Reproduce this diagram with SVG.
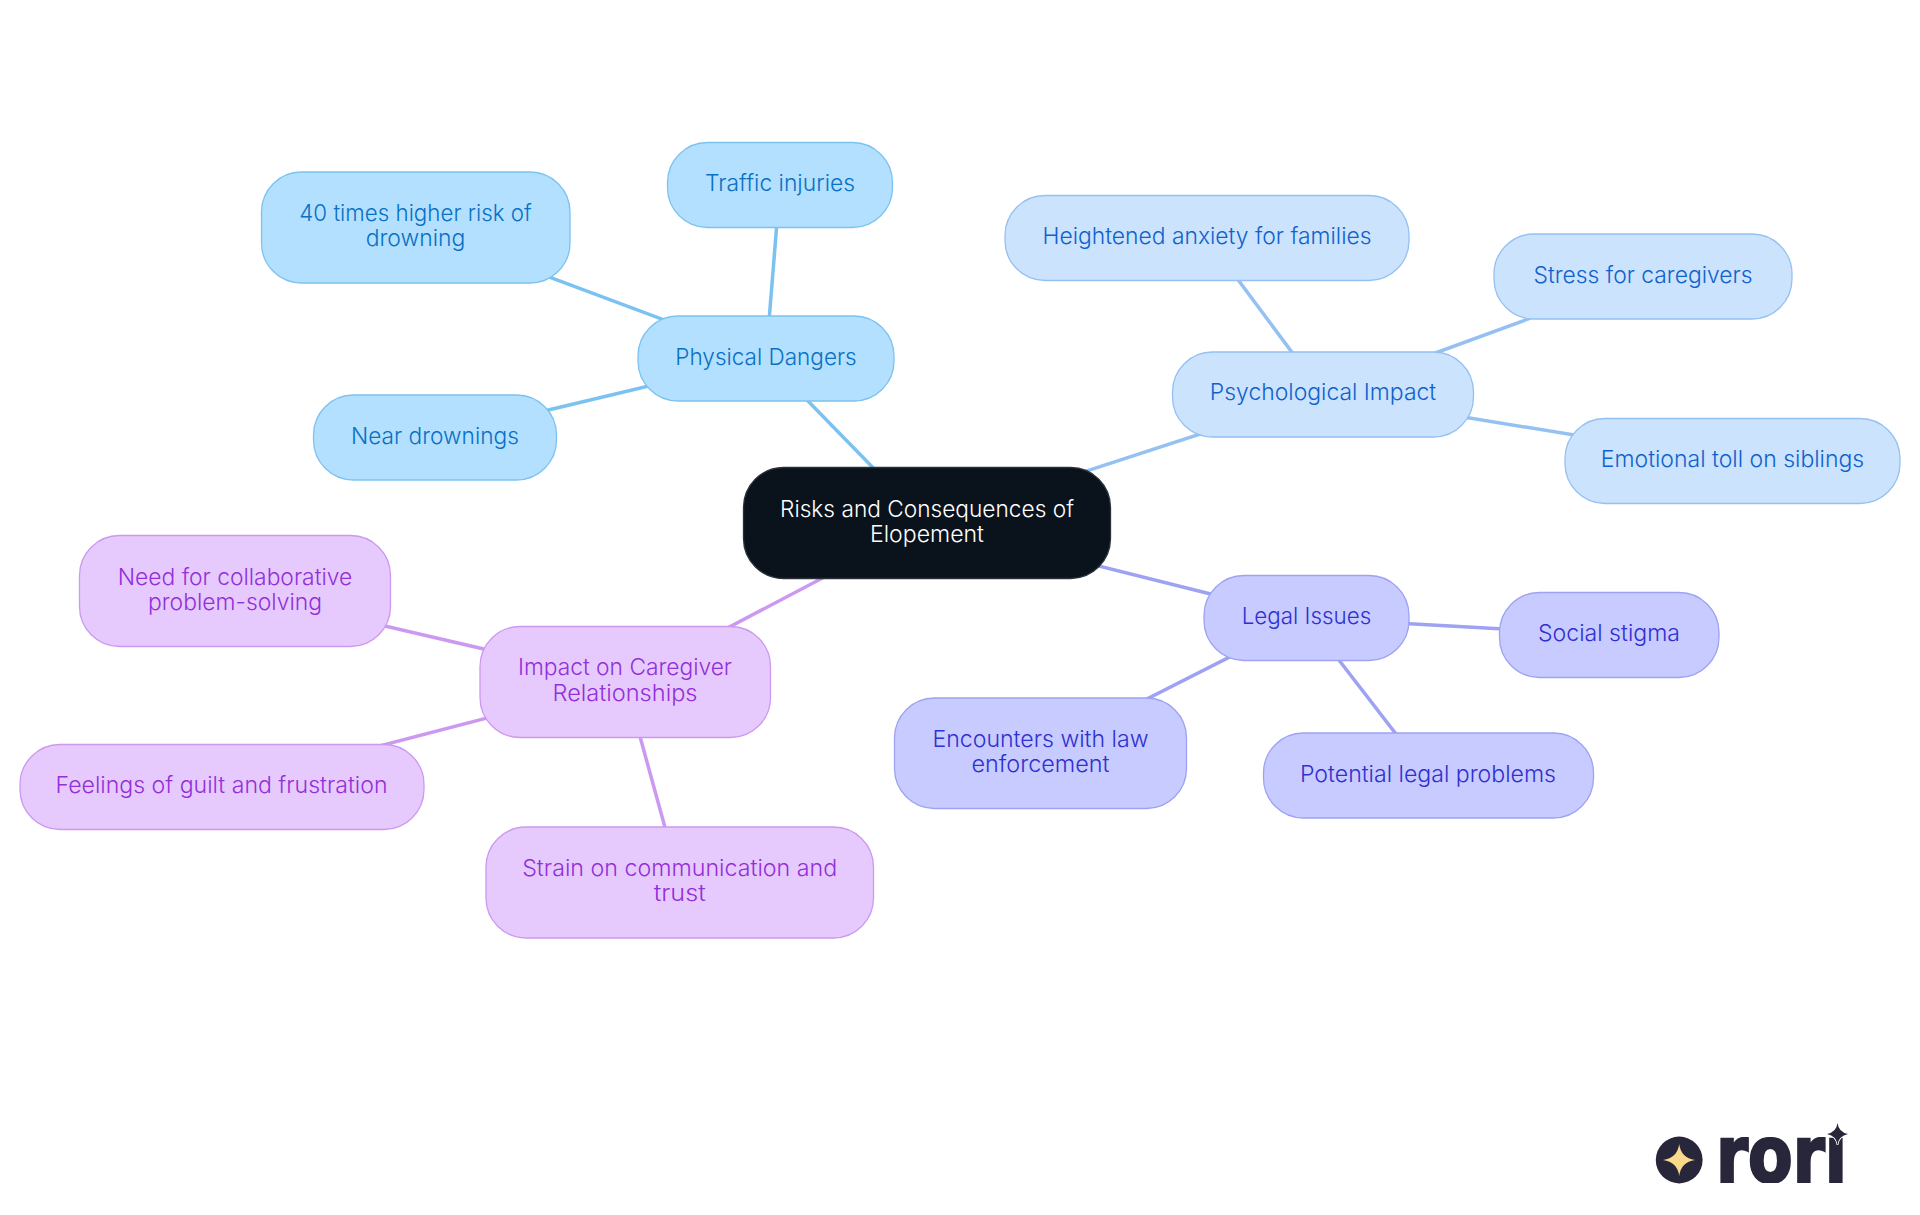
<svg xmlns="http://www.w3.org/2000/svg" width="1920" height="1215" viewBox="0 0 1920 1215">
<style>
text{font-family:"Inter","Liberation Sans",sans-serif;font-size:23px;font-weight:350;text-anchor:middle}
rect{stroke-width:1.3}
.c line{stroke-width:3.5;stroke-linecap:round;fill:none}
.root rect{fill:#0a121b;stroke:#2b3138}.root text{fill:#ffffff;font-weight:300}
.a rect{fill:#b3e0ff;stroke:#7cc2f0}.a text{fill:#0a70c4}
.b rect{fill:#cce3fd;stroke:#94c0f2}.b text{fill:#0f62cc}
.l rect{fill:#c8cbff;stroke:#9da2f2}.l text{fill:#2f30cf}
.p rect{fill:#e7cafd;stroke:#cc98f0}.p text{fill:#9230d9}
.ca{stroke:#7cc2f0}.cb{stroke:#94c0f2}.cl{stroke:#9da2f2}.cp{stroke:#cc98f0}
.w{font-family:"DejaVu Sans",sans-serif;font-weight:700;font-size:78px;fill:#28263a;stroke:#28263a;stroke-width:2.5}
</style>
<defs><clipPath id="wc"><rect x="1700" y="1137" width="160" height="46"/></clipPath></defs>
<g id="connectors" class="c">
<line class="ca" x1="927" y1="523" x2="766" y2="358"/>
<line class="ca" x1="766" y1="358" x2="780" y2="185"/>
<line class="ca" x1="766" y1="358" x2="415" y2="227"/>
<line class="ca" x1="766" y1="358" x2="435" y2="437"/>
<line class="cb" x1="927" y1="523" x2="1323" y2="394"/>
<line class="cb" x1="1323" y1="394" x2="1207" y2="238"/>
<line class="cb" x1="1323" y1="394" x2="1643" y2="277"/>
<line class="cb" x1="1323" y1="394" x2="1733" y2="461"/>
<line class="cl" x1="927" y1="523" x2="1306.5" y2="618"/>
<line class="cl" x1="1306.5" y1="618" x2="1609" y2="635"/>
<line class="cl" x1="1306.5" y1="618" x2="1428" y2="775.5"/>
<line class="cl" x1="1306.5" y1="618" x2="1040.5" y2="753"/>
<line class="cp" x1="927" y1="523" x2="625" y2="682"/>
<line class="cp" x1="625" y1="682" x2="235" y2="591"/>
<line class="cp" x1="625" y1="682" x2="222" y2="787"/>
<line class="cp" x1="625" y1="682" x2="680" y2="882"/>
</g>
<g id="root" class="root"><rect x="743.5" y="467.5" width="367" height="111" rx="40"/><text x="927" y="516.7" textLength="294" lengthAdjust="spacingAndGlyphs">Risks and Consequences of</text><text x="927" y="542" textLength="114" lengthAdjust="spacingAndGlyphs">Elopement</text></g>
<g id="physical" class="a"><rect x="638" y="316" width="256" height="85" rx="40"/><text x="766" y="365" textLength="181.3" lengthAdjust="spacingAndGlyphs">Physical Dangers</text></g>
<g id="traffic" class="a"><rect x="667.5" y="142.5" width="225" height="85" rx="40"/><text x="780" y="190.7" textLength="150" lengthAdjust="spacingAndGlyphs">Traffic injuries</text></g>
<g id="drowning" class="a"><rect x="261.5" y="172" width="308.5" height="111" rx="40"/><text x="415.5" y="220.5" textLength="232.4" lengthAdjust="spacingAndGlyphs">40 times higher risk of</text><text x="415.5" y="245.8" textLength="99.7" lengthAdjust="spacingAndGlyphs">drowning</text></g>
<g id="near" class="a"><rect x="313.5" y="395" width="243" height="85" rx="40"/><text x="435" y="443.5" textLength="168" lengthAdjust="spacingAndGlyphs">Near drownings</text></g>
<g id="psychological" class="b"><rect x="1172.5" y="352" width="301" height="85" rx="40"/><text x="1323" y="400" textLength="226.3" lengthAdjust="spacingAndGlyphs">Psychological Impact</text></g>
<g id="anxiety" class="b"><rect x="1005" y="195.5" width="404" height="85" rx="40"/><text x="1207" y="244" textLength="329" lengthAdjust="spacingAndGlyphs">Heightened anxiety for families</text></g>
<g id="stress" class="b"><rect x="1494" y="234" width="298" height="85" rx="40"/><text x="1643" y="283" textLength="219" lengthAdjust="spacingAndGlyphs">Stress for caregivers</text></g>
<g id="siblings" class="b"><rect x="1565" y="418.5" width="335" height="85" rx="40"/><text x="1732.5" y="467" textLength="263.5" lengthAdjust="spacingAndGlyphs">Emotional toll on siblings</text></g>
<g id="legal" class="l"><rect x="1204" y="575.5" width="205" height="85" rx="40"/><text x="1306.5" y="624" textLength="129.5" lengthAdjust="spacingAndGlyphs">Legal Issues</text></g>
<g id="stigma" class="l"><rect x="1499.5" y="592.5" width="219.5" height="85" rx="40"/><text x="1609" y="641" textLength="142" lengthAdjust="spacingAndGlyphs">Social stigma</text></g>
<g id="problems" class="l"><rect x="1263.5" y="733" width="330" height="85" rx="40"/><text x="1428" y="781.5" textLength="256" lengthAdjust="spacingAndGlyphs">Potential legal problems</text></g>
<g id="enforcement" class="l"><rect x="894.5" y="698" width="292" height="110.5" rx="40"/><text x="1040.5" y="746.5" textLength="216" lengthAdjust="spacingAndGlyphs">Encounters with law</text><text x="1040.5" y="771.8" textLength="138" lengthAdjust="spacingAndGlyphs">enforcement</text></g>
<g id="caregiver" class="p"><rect x="480" y="626.5" width="290.5" height="111" rx="40"/><text x="625" y="675" textLength="214" lengthAdjust="spacingAndGlyphs">Impact on Caregiver</text><text x="625" y="700.5" textLength="145" lengthAdjust="spacingAndGlyphs">Relationships</text></g>
<g id="collaborative" class="p"><rect x="79.5" y="535.5" width="311" height="111" rx="40"/><text x="235" y="585" textLength="234.5" lengthAdjust="spacingAndGlyphs">Need for collaborative</text><text x="235" y="610.3" textLength="174" lengthAdjust="spacingAndGlyphs">problem-solving</text></g>
<g id="guilt" class="p"><rect x="20" y="744.5" width="404" height="85" rx="40"/><text x="221.5" y="793" textLength="332" lengthAdjust="spacingAndGlyphs">Feelings of guilt and frustration</text></g>
<g id="strain" class="p"><rect x="486" y="827" width="387.5" height="111" rx="40"/><text x="679.7" y="875.5" textLength="315" lengthAdjust="spacingAndGlyphs">Strain on communication and</text><text x="679.7" y="900.8" textLength="52" lengthAdjust="spacingAndGlyphs">trust</text></g>
<g id="logo">
<circle cx="1679.2" cy="1160" r="23.4" fill="#28263a"/>
<path d="M1679.2 1144Q1681 1158 1695 1160Q1681 1162 1679.2 1176Q1677.4 1162 1663 1160Q1677.4 1158 1679.2 1144Z" fill="#fbd98a"/>
<text class="w" x="1781.5" y="1181.7" textLength="131" lengthAdjust="spacingAndGlyphs" clip-path="url(#wc)">rori</text>
<path d="M1837.5 1123Q1838.5 1132 1848 1134Q1838.5 1136 1837.5 1145Q1836.5 1136 1827 1134Q1836.5 1132 1837.5 1123Z" fill="#28263a" stroke="#fff" stroke-width="1.5" paint-order="stroke"/>
</g>
</svg>
